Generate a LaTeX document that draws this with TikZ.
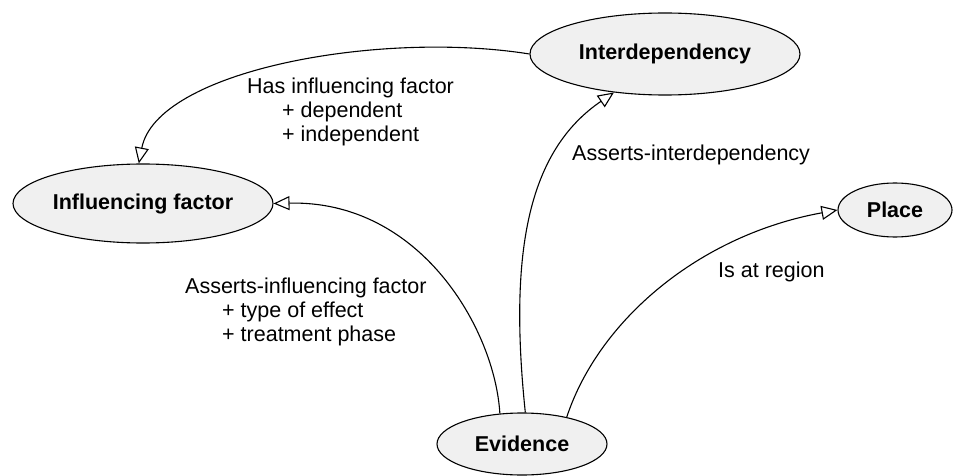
\documentclass[tikz,border=0pt]{standalone}
\usepackage{fontspec}
\setmainfont{Liberation Sans}
\usetikzlibrary{shapes.geometric,arrows.meta}
\definecolor{nodefill}{HTML}{F0F0F0}
\tikzset{
  concept/.style={ellipse, draw=black, line width=1.1pt, fill=nodefill, inner sep=0pt,
    font=\fontsize{21.5}{24}\selectfont\bfseries},
  rel/.style={draw=black, line width=1.1pt,
    -{Triangle[length=16pt, width=14pt, fill=white, line width=1.1pt]}},
  lbl/.style={inner sep=0pt, anchor=west, align=left, font=\fontsize{21.5}{24}\selectfont}
}
\begin{document}
\begin{tikzpicture}[x=1pt,y=-1pt]
\useasboundingbox (0,0) rectangle (953,476);
\node[concept, minimum width=270pt, minimum height=82pt] (int) at (665,54) {Interdependency};
\node[concept, minimum width=260pt, minimum height=79pt] (inf) at (143,203.5) {Influencing factor};
\node[concept, minimum width=170pt, minimum height=62pt] (ev) at (522,444) {Evidence};
\node[concept, minimum width=114pt, minimum height=54pt] (pl) at (895,210) {Place};

\draw[rel] (int.west) .. controls +(-150,-24) and +(18,-93) .. (inf.96);
\draw[rel] (ev.126) .. controls +(-5,-84) and +(147,-3.5) .. (inf.east);
\draw[rel] (ev.84) .. controls +(-17,-163) and +(-85,58) .. (int.217);
\draw[rel] (ev.31) .. controls +(32,-97) and +(-138,25) .. (pl.west);

\node[lbl] (l1) at (247,112) {Has influencing factor\\\hspace*{35pt}+ dependent\\\hspace*{35pt}+ independent};
\node[lbl] (l2) at (572,155) {Asserts-interdependency};
\node[lbl] (l3) at (185,312) {Asserts-influencing factor\\\hspace*{37pt}+ type of effect\\\hspace*{37pt}+ treatment phase};
\node[lbl] (l4) at (718,272) {Is at region};
\end{tikzpicture}
\end{document}
